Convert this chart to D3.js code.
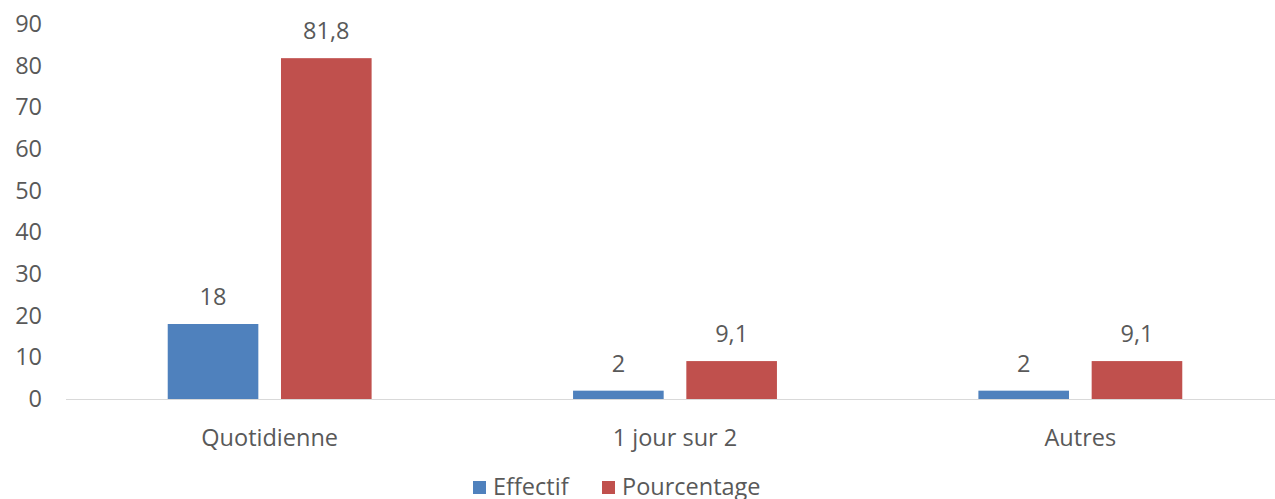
<!DOCTYPE html>
<html>
<head>
<meta charset="utf-8">
<script src="https://cdn.jsdelivr.net/npm/d3@7"></script>
<style>
  body { margin: 0; background: #fff; }
  text { font-family: "Open Sans", sans-serif; fill: #595959; }
</style>
</head>
<body>
<svg id="chart" width="1275" height="499"></svg>
<script>
const categories = ['Quotidienne', '1 jour sur 2', 'Autres'];
const seriesNames = ['Effectif', 'Pourcentage'];
const effectif = [18, 2, 2];
const pourcentage = [81.8, 9.1, 9.1];
const yTicks = [0, 10, 20, 30, 40, 50, 60, 70, 80, 90];
const colors = ['#4F81BD', '#C0504D'];

const svg = d3.select('#chart');
const fmt = v => String(v).replace('.', ',');
const fs = '23.5px';

// rows for the grouped bars
const rows = categories.map((c, i) => ({ cat: c, values: [effectif[i], pourcentage[i]] }));

const x0 = d3.scaleBand()
  .domain(categories)
  .range([67, 1283])
  .paddingInner(0.497)
  .paddingOuter(0.2485);

const x1 = d3.scaleBand()
  .domain(seriesNames)
  .range([0, x0.bandwidth()])
  .padding(0.2)
  .paddingOuter(0);

const y = d3.scaleLinear()
  .domain([0, 90])
  .range([399, 24]);

// y-axis labels only, no line
const yAxis = svg.append('g')
  .attr('transform', 'translate(42,0)')
  .call(d3.axisLeft(y).tickValues(yTicks).tickSize(0).tickPadding(0));
yAxis.select('.domain').remove();
yAxis.selectAll('text')
  .style('font-size', fs)
  .attr('fill', '#595959');

// bars
const groups = svg.append('g')
  .selectAll('g')
  .data(rows)
  .enter()
  .append('g')
    .attr('transform', d => `translate(${x0(d.cat)},0)`);

groups.selectAll('rect')
  .data(d => d.values.map((v, i) => ({ key: seriesNames[i], v: v, i: i })))
  .enter()
  .append('rect')
    .attr('x', d => x1(d.key))
    .attr('y', d => y(d.v))
    .attr('width', x1.bandwidth())
    .attr('height', d => y(0) - y(d.v))
    .attr('fill', d => colors[d.i]);

// value labels
groups.selectAll('text.val')
  .data(d => d.values.map((v, i) => ({ key: seriesNames[i], v: v })))
  .enter()
  .append('text')
    .attr('class', 'val')
    .attr('x', d => x1(d.key) + x1.bandwidth() / 2)
    .attr('y', d => y(d.v) - 27)
    .attr('text-anchor', 'middle')
    .attr('dy', '0.35em')
    .style('font-size', fs)
    .text(d => fmt(d.v));

// baseline
svg.append('line')
  .attr('x1', 66).attr('x2', 1275)
  .attr('y1', y(0) + 0.5).attr('y2', y(0) + 0.5)
  .attr('stroke', '#D9D9D9')
  .attr('stroke-width', 1);

// category axis
const xAxis = svg.append('g')
  .attr('transform', `translate(0,${y(0)})`)
  .call(d3.axisBottom(x0).tickSize(0).tickPadding(0));
xAxis.select('.domain').remove();
xAxis.selectAll('text')
  .attr('dy', null)
  .attr('y', 38)
  .attr('dominant-baseline', 'central')
  .style('font-size', fs)
  .attr('fill', '#595959');

// legend
const legend = svg.append('g');
const legendX = [473, 602];
seriesNames.forEach((name, i) => {
  legend.append('rect')
    .attr('x', legendX[i]).attr('y', 481)
    .attr('width', 13).attr('height', 13)
    .attr('fill', colors[i]);
  legend.append('text')
    .attr('x', legendX[i] + 20).attr('y', 487)
    .attr('dy', '0.35em')
    .style('font-size', fs)
    .text(name);
});
</script>
</body>
</html>
